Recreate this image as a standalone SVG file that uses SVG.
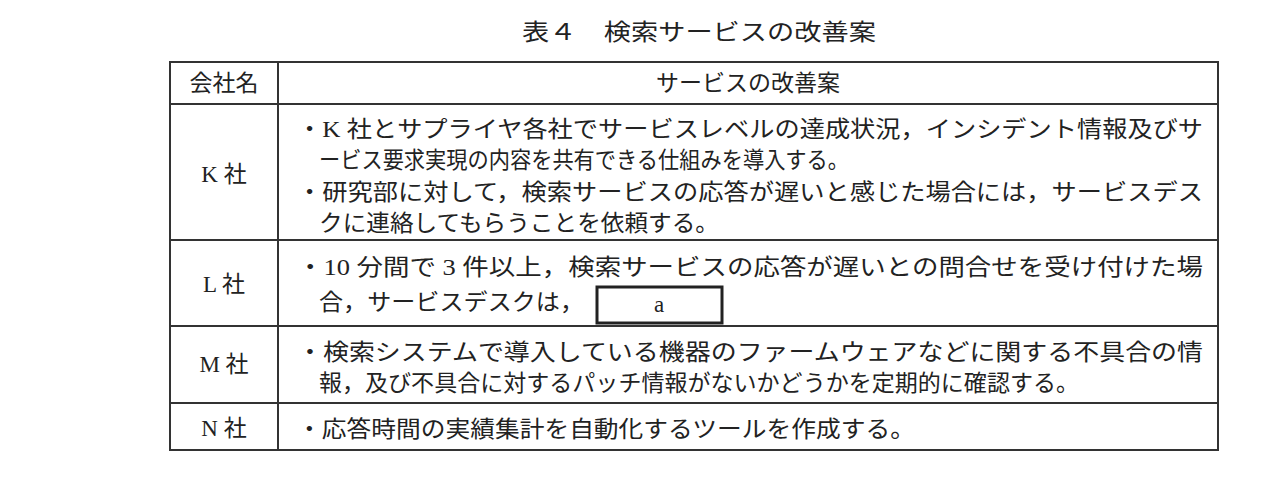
<svg xmlns="http://www.w3.org/2000/svg" width="1285" height="479" viewBox="0 0 1285 479">
<style>
text{font-family:"Liberation Serif","Noto Sans CJK JP",serif;font-size:23px;fill:#222}
.c{text-anchor:middle}
.ln{stroke:#333;stroke-width:2;fill:none}
</style>
<rect width="1285" height="479" fill="#fff"/>
<text x="522" y="40" font-size="25" textLength="354" lengthAdjust="spacingAndGlyphs">表４　検索サービスの改善案</text>
<g id="table">
<rect class="ln" x="170" y="62" width="1048" height="388"/>
<line class="ln" x1="278" y1="62" x2="278" y2="450"/>
<line class="ln" x1="170" y1="104" x2="1218" y2="104"/>
<line class="ln" x1="170" y1="240" x2="1218" y2="240"/>
<line class="ln" x1="170" y1="326" x2="1218" y2="326"/>
<line class="ln" x1="170" y1="403" x2="1218" y2="403"/>
</g>
<g id="header">
<text class="c" x="224" y="91">会社名</text>
<text class="c" x="748" y="91">サービスの改善案</text>
</g>
<g id="rowK">
<text class="c" x="224" y="182">K 社</text>
<text x="297" y="137" textLength="906" lengthAdjust="spacingAndGlyphs">・K 社とサプライヤ各社でサービスレベルの達成状況，インシデント情報及びサ</text>
<text x="319" y="168" textLength="530" lengthAdjust="spacingAndGlyphs">ービス要求実現の内容を共有できる仕組みを導入する。</text>
<text x="297" y="200" textLength="906" lengthAdjust="spacingAndGlyphs">・研究部に対して，検索サービスの応答が遅いと感じた場合には，サービスデス</text>
<text x="319" y="231" textLength="400" lengthAdjust="spacingAndGlyphs">クに連絡してもらうことを依頼する。</text>
</g>
<g id="rowL">
<text class="c" x="224" y="292">L 社</text>
<text x="297" y="275" textLength="906" lengthAdjust="spacingAndGlyphs">・10 分間で 3 件以上，検索サービスの応答が遅いとの問合せを受け付けた場</text>
<text x="319" y="310" textLength="265" lengthAdjust="spacingAndGlyphs">合，サービスデスクは，</text>
<rect x="597" y="287" width="125" height="36" fill="none" stroke="#222" stroke-width="3"/>
<text class="c" x="659" y="312">a</text>
</g>
<g id="rowM">
<text class="c" x="224" y="372">M 社</text>
<text x="297" y="360" textLength="906" lengthAdjust="spacingAndGlyphs">・検索システムで導入している機器のファームウェアなどに関する不具合の情</text>
<text x="319" y="391" textLength="760" lengthAdjust="spacingAndGlyphs">報，及び不具合に対するパッチ情報がないかどうかを定期的に確認する。</text>
</g>
<g id="rowN">
<text class="c" x="224" y="436">N 社</text>
<text x="297" y="437" textLength="618" lengthAdjust="spacingAndGlyphs">・応答時間の実績集計を自動化するツールを作成する。</text>
</g>
</svg>
